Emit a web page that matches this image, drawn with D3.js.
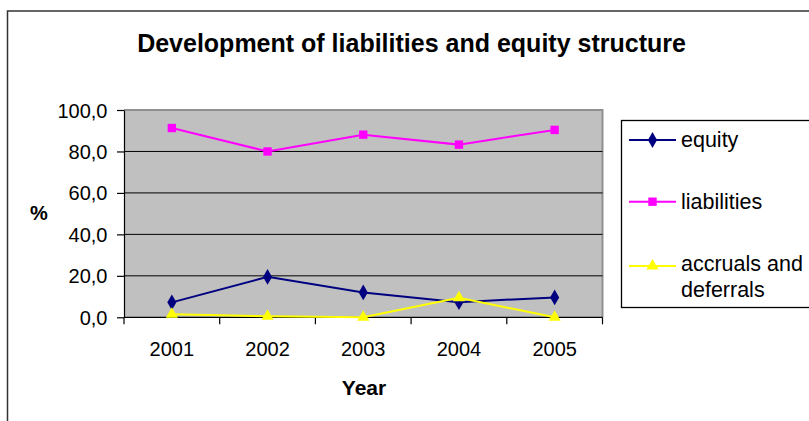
<!DOCTYPE html>
<html>
<head>
<meta charset="utf-8">
<script src="https://cdn.jsdelivr.net/npm/d3@7"></script>
<style>
  html, body { margin: 0; padding: 0; background: #fff; }
  svg { display: block; font-family: "Liberation Sans", Arial, sans-serif; }
</style>
</head>
<body>
<svg id="chart" width="809" height="421"></svg>
<script>
// Data
const years = ["2001", "2002", "2003", "2004", "2005"];
const equity = [7.2, 19.5, 12.0, 7.3, 9.6];
const liabilities = [91.3, 80.0, 88.1, 83.3, 90.4];
const accruals = [1.5, 0.5, 0.0, 9.4, 0.0];
const yTicks = [0, 20, 40, 60, 80, 100];
const seriesNames = ["equity", "liabilities", "accruals and deferrals"];

const series = [
  { name: seriesNames[0], values: equity, color: "#000080", symbol: d3.symbolDiamond, size: 72 },
  { name: seriesNames[1], values: liabilities, color: "#FF00FF", symbol: d3.symbolSquare, size: 70 },
  { name: seriesNames[2], values: accruals, color: "#FFFF00", symbol: d3.symbolTriangle, size: 64 }
];

const svg = d3.select("#chart");

// Chart frame
svg.append("rect")
  .attr("x", 7.5).attr("y", 11).attr("width", 900).attr("height", 500)
  .attr("fill", "#fff").attr("stroke", "#333").attr("stroke-width", 1.5);

// Title
svg.append("text")
  .attr("x", 411.5).attr("y", 52)
  .attr("text-anchor", "middle")
  .attr("font-size", 25).attr("font-weight", "bold")
  .text("Development of liabilities and equity structure");

const plot = { left: 124, right: 602.5, top: 110, bottom: 317.3 };

const x = d3.scaleBand().domain(years).range([plot.left, plot.right]);
const y = d3.scaleLinear().domain([0, 100]).range([plot.bottom, plot.top]);

// Plot background
svg.append("rect")
  .attr("x", plot.left).attr("y", plot.top)
  .attr("width", plot.right - plot.left).attr("height", plot.bottom - plot.top)
  .attr("fill", "#C0C0C0");

// Top and right plot border
svg.append("path")
  .attr("d", `M${plot.left},${plot.top}H${plot.right}V${plot.bottom}`)
  .attr("fill", "none").attr("stroke", "#909090").attr("stroke-width", 2);

// Gridlines
svg.append("g").selectAll("line")
  .data(yTicks.filter(t => t > 0 && t < 100))
  .join("line")
  .attr("x1", plot.left).attr("x2", plot.right)
  .attr("y1", d => y(d)).attr("y2", d => y(d))
  .attr("stroke", "#000").attr("stroke-width", 1);

// Y axis
const yAxis = svg.append("g")
  .attr("transform", `translate(${plot.left},0)`)
  .call(d3.axisLeft(y).tickValues(yTicks).tickSize(7).tickSizeOuter(0)
    .tickFormat(d => d3.format(".1f")(d).replace(".", ",")));
yAxis.select(".domain").attr("stroke", "#000").attr("stroke-width", 1.2);
yAxis.selectAll(".tick line").attr("stroke", "#000").attr("stroke-width", 1.2);
yAxis.selectAll(".tick text")
  .attr("x", -16.5).attr("dy", "0.35em")
  .attr("font-size", 20).attr("fill", "#000")
  .attr("font-family", "'Liberation Sans', Arial, sans-serif");

// X axis with ticks between categories
const xAxis = svg.append("g")
  .attr("transform", `translate(0,${plot.bottom})`);
xAxis.append("line")
  .attr("x1", plot.left).attr("x2", plot.right)
  .attr("stroke", "#000").attr("stroke-width", 1.2);
const bounds = years.map(d => x(d)).concat([x(years[years.length - 1]) + x.bandwidth()]);
xAxis.selectAll("line.tk").data(bounds).join("line")
  .attr("class", "tk")
  .attr("x1", d => d).attr("x2", d => d)
  .attr("y1", 0).attr("y2", 7)
  .attr("stroke", "#000").attr("stroke-width", 1.2);
xAxis.selectAll("text").data(years).join("text")
  .attr("x", d => x(d) + x.bandwidth() / 2)
  .attr("y", 39)
  .attr("text-anchor", "middle")
  .attr("font-size", 20)
  .text(d => d);

// Axis titles
svg.append("text")
  .attr("x", 364).attr("y", 395)
  .attr("text-anchor", "middle")
  .attr("font-size", 21).attr("font-weight", "bold")
  .text("Year");
svg.append("text")
  .attr("x", 39).attr("y", 220)
  .attr("text-anchor", "middle")
  .attr("font-size", 20).attr("font-weight", "bold")
  .text("%");

// Lines and markers
const cx = d => x(d) + x.bandwidth() / 2;
const line = d3.line().x((v, i) => cx(years[i])).y(v => y(v));

series.forEach(s => {
  svg.append("path")
    .attr("d", line(s.values))
    .attr("fill", "none").attr("stroke", s.color).attr("stroke-width", 2);
  svg.append("g").selectAll("path")
    .data(s.values)
    .join("path")
    .attr("transform", (v, i) => `translate(${cx(years[i])},${y(v)})`)
    .attr("d", d3.symbol().type(s.symbol).size(s.size))
    .attr("fill", s.color);
});

// Legend
const legend = svg.append("g");
legend.append("rect")
  .attr("x", 621.5).attr("y", 120.5).attr("width", 200).attr("height", 187)
  .attr("fill", "#fff").attr("stroke", "#000").attr("stroke-width", 1.3);

const legendY = [140, 201.7, 266];
series.forEach((s, i) => {
  const g = legend.append("g").attr("transform", `translate(0,${legendY[i]})`);
  g.append("line").attr("x1", 629).attr("x2", 676).attr("y1", 0).attr("y2", 0)
    .attr("stroke", s.color).attr("stroke-width", 2);
  g.append("path")
    .attr("transform", "translate(652.5,0)")
    .attr("d", d3.symbol().type(s.symbol).size(s.size))
    .attr("fill", s.color);
  const words = s.name === seriesNames[2] ? ["accruals and", "deferrals"] : [s.name];
  const t = g.append("text").attr("x", 681).attr("font-size", 21.5);
  words.forEach((w, k) => {
    t.append("tspan").attr("x", 681)
      .attr("y", words.length > 1 ? 5 + k * 25.5 : 7)
      .text(w);
  });
});
</script>
</body>
</html>
